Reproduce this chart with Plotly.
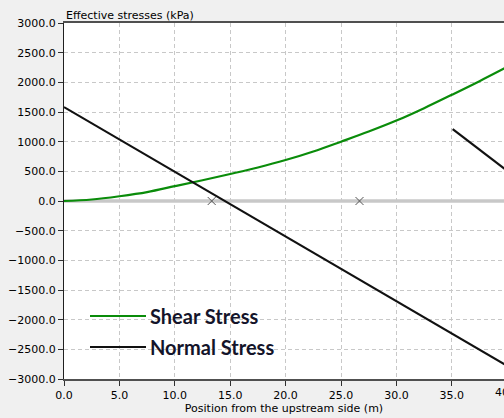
import plotly.graph_objects as go

# ---- data ----
shear_x = [0, 2.5, 5, 7.5, 10, 12.5, 15, 17.5, 20, 22.5, 25, 27.5, 30, 32.5, 35, 37.5, 40]
shear_y = [0, 25, 80, 150, 250, 350, 455, 565, 690, 835, 1000, 1170, 1355, 1565, 1790, 2020, 2260]

normal_x = [0, 25, 40]
normal_y = [1583, -1150, -2780]

normal2_x = [35.08, 40]
normal2_y = [1211, 510]

base_x = [0, 40]
base_y = [0, 0]
kern_x = [13.33, 26.67]
kern_y = [0, 0]

x_ticks = [0, 5, 10, 15, 20, 25, 30, 35]
y_ticks = [3000, 2500, 2000, 1500, 1000, 500, 0, -500, -1000, -1500, -2000, -2500, -3000]
last_x_tick = 40

legend_names = ["Shear Stress", "Normal Stress"]
legend_colors = ["#0a8c0a", "#111111"]

FONT = "DejaVu Sans"
W, H = 504, 418
L, T, B = 64, 23, 39
plot_w = W - L
plot_h = H - T - B
px_per_unit = 55.4 / 5.0
x_max = plot_w / px_per_unit

fig = go.Figure()

fig.add_trace(go.Scatter(x=base_x, y=base_y, mode="lines",
                         line=dict(color="#c8c8c8", width=3.5), showlegend=False, hoverinfo="skip"))
fig.add_trace(go.Scatter(x=kern_x, y=kern_y, mode="markers",
                         marker=dict(symbol="x-thin-open", size=8, color="#555555",
                                     line=dict(color="#555555", width=1)),
                         showlegend=False))
fig.add_trace(go.Scatter(x=shear_x, y=shear_y, mode="lines", name=legend_names[0],
                         line=dict(color=legend_colors[0], width=2.2, shape="spline"), showlegend=False))
fig.add_trace(go.Scatter(x=normal_x, y=normal_y, mode="lines", name=legend_names[1],
                         line=dict(color=legend_colors[1], width=2.2), showlegend=False))
fig.add_trace(go.Scatter(x=normal2_x, y=normal2_y, mode="lines", name=legend_names[1],
                         line=dict(color=legend_colors[1], width=2.2), showlegend=False))

# white legend box (between gridlines and traces)
fig.add_shape(type="rect", xref="paper", yref="paper", x0=0, x1=(301 - L) / plot_w,
              y0=0, y1=(379 - 292) / plot_h, layer="between",
              fillcolor="white", line=dict(width=0))

legend_rows_px = [316, 347]
for name, color, ypx in zip(legend_names, legend_colors, legend_rows_px):
    yp = (H - B - ypx) / plot_h
    fig.add_shape(type="line", xref="paper", yref="paper",
                  x0=(90 - L) / plot_w, x1=(146 - L) / plot_w, y0=yp, y1=yp,
                  line=dict(color=color, width=2), layer="above")
    fig.add_annotation(text="<b>" + name + "</b>", xref="paper", yref="paper",
                       x=(148 - L) / plot_w, y=yp, xanchor="left", yanchor="middle",
                       showarrow=False, font=dict(family="Lato", size=20, color="#14142a"))

fig.add_annotation(text="Effective stresses (kPa)", xref="paper", yref="paper",
                   x=0, y=1, xanchor="left", yanchor="bottom", yshift=-1,
                   showarrow=False, font=dict(family=FONT, size=11, color="#000"))
# partially visible last tick label (cut at the window edge)
fig.add_annotation(text="%.1f" % last_x_tick, xref="paper", yref="paper",
                   x=last_x_tick * px_per_unit / plot_w, y=0, yanchor="top",
                   xanchor="center", yshift=-5, showarrow=False,
                   font=dict(family=FONT, size=11, color="#000"))

grid = dict(showgrid=True, gridcolor="#c8c8c8", gridwidth=1, griddash="4px,3px")

fig.update_xaxes(range=[0, x_max], tickvals=x_ticks, tickformat=".1f", **grid,
                 showline=True, linecolor="#505050", linewidth=2, mirror=True,
                 ticks="outside", ticklen=5, tickcolor="#303030",
                 zeroline=False,
                 tickfont=dict(family=FONT, size=11, color="#000"),
                 title=dict(text="Position from the upstream side (m)", standoff=1,
                            font=dict(family=FONT, size=11, color="#000")))
fig.update_yaxes(range=[-3000, 3000], tickvals=y_ticks, tickformat=".1f", **grid,
                 showline=True, linecolor="#202020", linewidth=1,
                 ticks="outside", ticklen=5, tickcolor="#303030",
                 zeroline=False,
                 tickfont=dict(family=FONT, size=11, color="#000"))

fig.update_layout(width=W, height=H, margin=dict(l=L, r=0, t=T, b=B),
                  paper_bgcolor="#f0f0f0", plot_bgcolor="white",
                  showlegend=False, font=dict(family=FONT, size=11, color="#000"))

fig.write_html("out.html")
